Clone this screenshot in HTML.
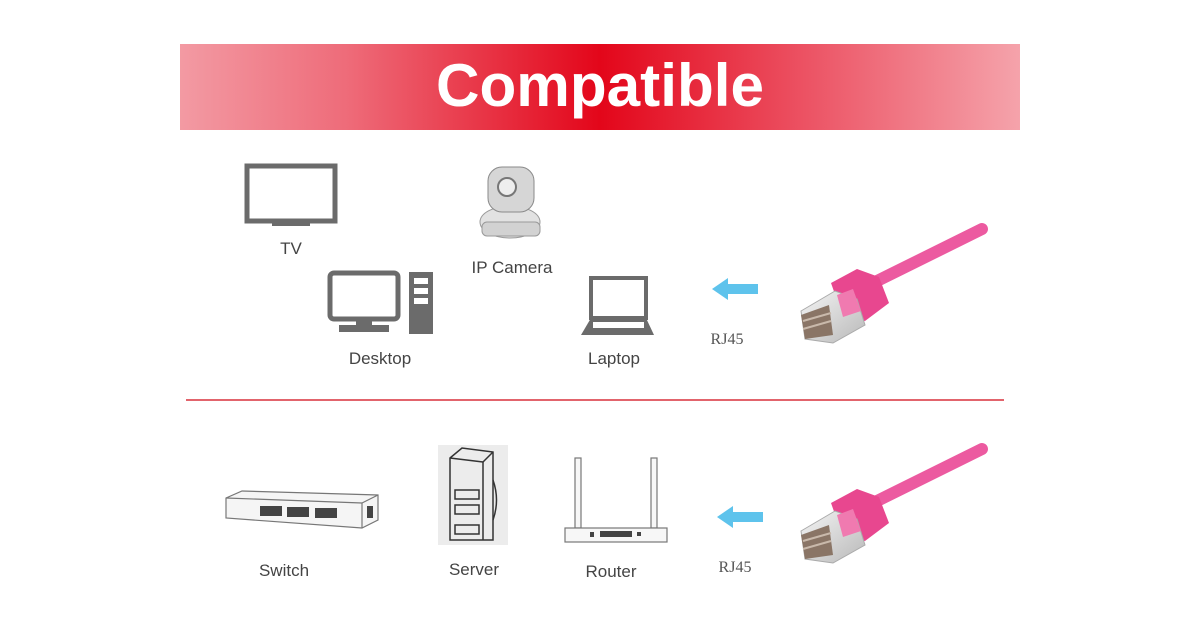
<!DOCTYPE html>
<html><head><meta charset="utf-8"><style>
html,body{margin:0;padding:0;background:#fff;}
svg{display:block}
text{font-family:"Liberation Sans",sans-serif;}
</style></head><body>
<svg width="1200" height="630" viewBox="0 0 1200 630" xmlns="http://www.w3.org/2000/svg">
<defs>
<linearGradient id="bn" x1="0" x2="1" y1="0" y2="0">
<stop offset="0" stop-color="#f39aa3"/>
<stop offset="0.2" stop-color="#ee6b79"/>
<stop offset="0.5" stop-color="#e3061a"/>
<stop offset="0.75" stop-color="#ec5465"/>
<stop offset="1" stop-color="#f5a3ab"/>
</linearGradient>
<linearGradient id="plug" x1="0" x2="1" y1="0" y2="1">
<stop offset="0" stop-color="#f4f4f4"/><stop offset="1" stop-color="#b9b9b9"/>
</linearGradient>
<g id="cable">
<path d="M70 62 L187 4" stroke="#ec5aa0" stroke-width="12" stroke-linecap="round"/>
<path d="M36 58 L62 44 L84 52 L94 78 L70 96 L48 92 Z" fill="#e8478f"/>
<path d="M6 86 L40 66 L62 74 L70 100 L38 118 L10 114 Z" fill="url(#plug)" stroke="#aaa" stroke-width="1"/>
<path d="M6 90 L34 80 L38 110 L10 114 Z" fill="#8a7566"/>
<path d="M8 96 L36 88 M8 104 L36 96" stroke="#c9b9ab" stroke-width="2"/>
<path d="M42 70 L58 64 L66 86 L48 92 Z" fill="#f07ab0"/>
</g>
</defs>
<rect x="180" y="44" width="840" height="86" fill="url(#bn)"/>
<text x="600" y="106" text-anchor="middle" font-size="60" font-weight="bold" fill="#fff" textLength="328" lengthAdjust="spacingAndGlyphs">Compatible</text>

<!-- TV -->
<rect x="247" y="166" width="88" height="55" fill="none" stroke="#6b6b6b" stroke-width="5"/>
<rect x="285" y="221" width="12" height="4" fill="#6b6b6b"/>
<rect x="272" y="223" width="38" height="3" fill="#6b6b6b"/>
<text x="291" y="254" text-anchor="middle" font-size="17" fill="#444">TV</text>

<!-- IP camera -->
<g>
<ellipse cx="510" cy="222" rx="30" ry="16" fill="#e2e2e2" stroke="#9a9a9a"/>
<rect x="488" y="167" width="46" height="45" rx="14" fill="#d6d6d6" stroke="#8a8a8a"/>
<circle cx="507" cy="187" r="9" fill="#eee" stroke="#777" stroke-width="2"/>
<rect x="482" y="222" width="58" height="14" rx="5" fill="#d2d2d2" stroke="#999"/>
</g>
<text x="512" y="273" text-anchor="middle" font-size="17" fill="#444">IP Camera</text>

<!-- Desktop -->
<rect x="330" y="273" width="68" height="46" rx="4" fill="none" stroke="#6b6b6b" stroke-width="5"/>
<rect x="356" y="320" width="16" height="8" fill="#6b6b6b"/>
<rect x="339" y="325" width="50" height="7" fill="#6b6b6b"/>
<rect x="409" y="272" width="24" height="62" fill="#6b6b6b"/>
<rect x="414" y="278" width="14" height="6" fill="#fff"/>
<rect x="414" y="288" width="14" height="6" fill="#fff"/>
<rect x="414" y="298" width="14" height="6" fill="#fff"/>
<text x="380" y="364" text-anchor="middle" font-size="17" fill="#444">Desktop</text>

<!-- Laptop -->
<rect x="591" y="278" width="55" height="40" fill="none" stroke="#6b6b6b" stroke-width="4"/>
<path d="M591 318 L646 318 L654 335 L581 335 Z" fill="#6b6b6b"/>
<rect x="593" y="322" width="51" height="6" fill="#fff"/>
<text x="614" y="364" text-anchor="middle" font-size="17" fill="#444">Laptop</text>

<!-- Arrow & RJ45 top -->
<path d="M712 289 L728 278 L728 284 L758 284 L758 294 L728 294 L728 300 Z" fill="#5ec3ec"/>
<text x="727" y="344" text-anchor="middle" font-size="16" fill="#555" style="font-family:'Liberation Serif',serif">RJ45</text>
<use href="#cable" x="795" y="225"/>

<!-- divider -->
<line x1="186" y1="400" x2="1004" y2="400" stroke="#d9303b" stroke-width="1.5"/>

<!-- Switch -->
<g stroke="#777" stroke-width="1.2">
<path d="M226 498 L242 491 L378 495 L378 520 L362 528 L226 518 Z" fill="#f5f5f5"/>
<line x1="226" y1="498" x2="362" y2="503"/><line x1="362" y1="503" x2="362" y2="528"/><line x1="362" y1="503" x2="378" y2="495"/>
</g>
<g fill="#444">
<rect x="260" y="506" width="22" height="10"/><rect x="287" y="507" width="22" height="10"/><rect x="315" y="508" width="22" height="10"/>
<rect x="367" y="506" width="6" height="12"/>
</g>
<text x="284" y="576" text-anchor="middle" font-size="17" fill="#444">Switch</text>

<!-- Server -->
<rect x="438" y="445" width="70" height="100" fill="#ececec"/>
<g fill="none" stroke="#333" stroke-width="1.5">
<path d="M450 458 L462 448 L493 452 L493 540 L450 540 Z"/>
<line x1="450" y1="458" x2="483" y2="462"/><line x1="483" y1="462" x2="493" y2="452"/><line x1="483" y1="462" x2="483" y2="540"/>
<path d="M493 480 Q500 500 493 520"/>
<rect x="455" y="490" width="24" height="9"/><rect x="455" y="505" width="24" height="9"/><rect x="455" y="525" width="24" height="9"/>
</g>
<text x="474" y="575" text-anchor="middle" font-size="17" fill="#444">Server</text>

<!-- Router -->
<g stroke="#777" stroke-width="1.2" fill="#f7f7f7">
<rect x="575" y="458" width="6" height="70"/><rect x="651" y="458" width="6" height="70"/>
<rect x="565" y="528" width="102" height="14"/>
</g>
<g fill="#444"><rect x="590" y="532" width="4" height="5"/><rect x="600" y="531" width="32" height="6"/><rect x="637" y="532" width="4" height="4"/></g>
<text x="611" y="577" text-anchor="middle" font-size="17" fill="#444">Router</text>

<!-- Arrow & RJ45 bottom -->
<path d="M717 517 L733 506 L733 512 L763 512 L763 522 L733 522 L733 528 Z" fill="#5ec3ec"/>
<text x="735" y="572" text-anchor="middle" font-size="16" fill="#555" style="font-family:'Liberation Serif',serif">RJ45</text>
<use href="#cable" x="795" y="445"/>
</svg>
</body></html>
